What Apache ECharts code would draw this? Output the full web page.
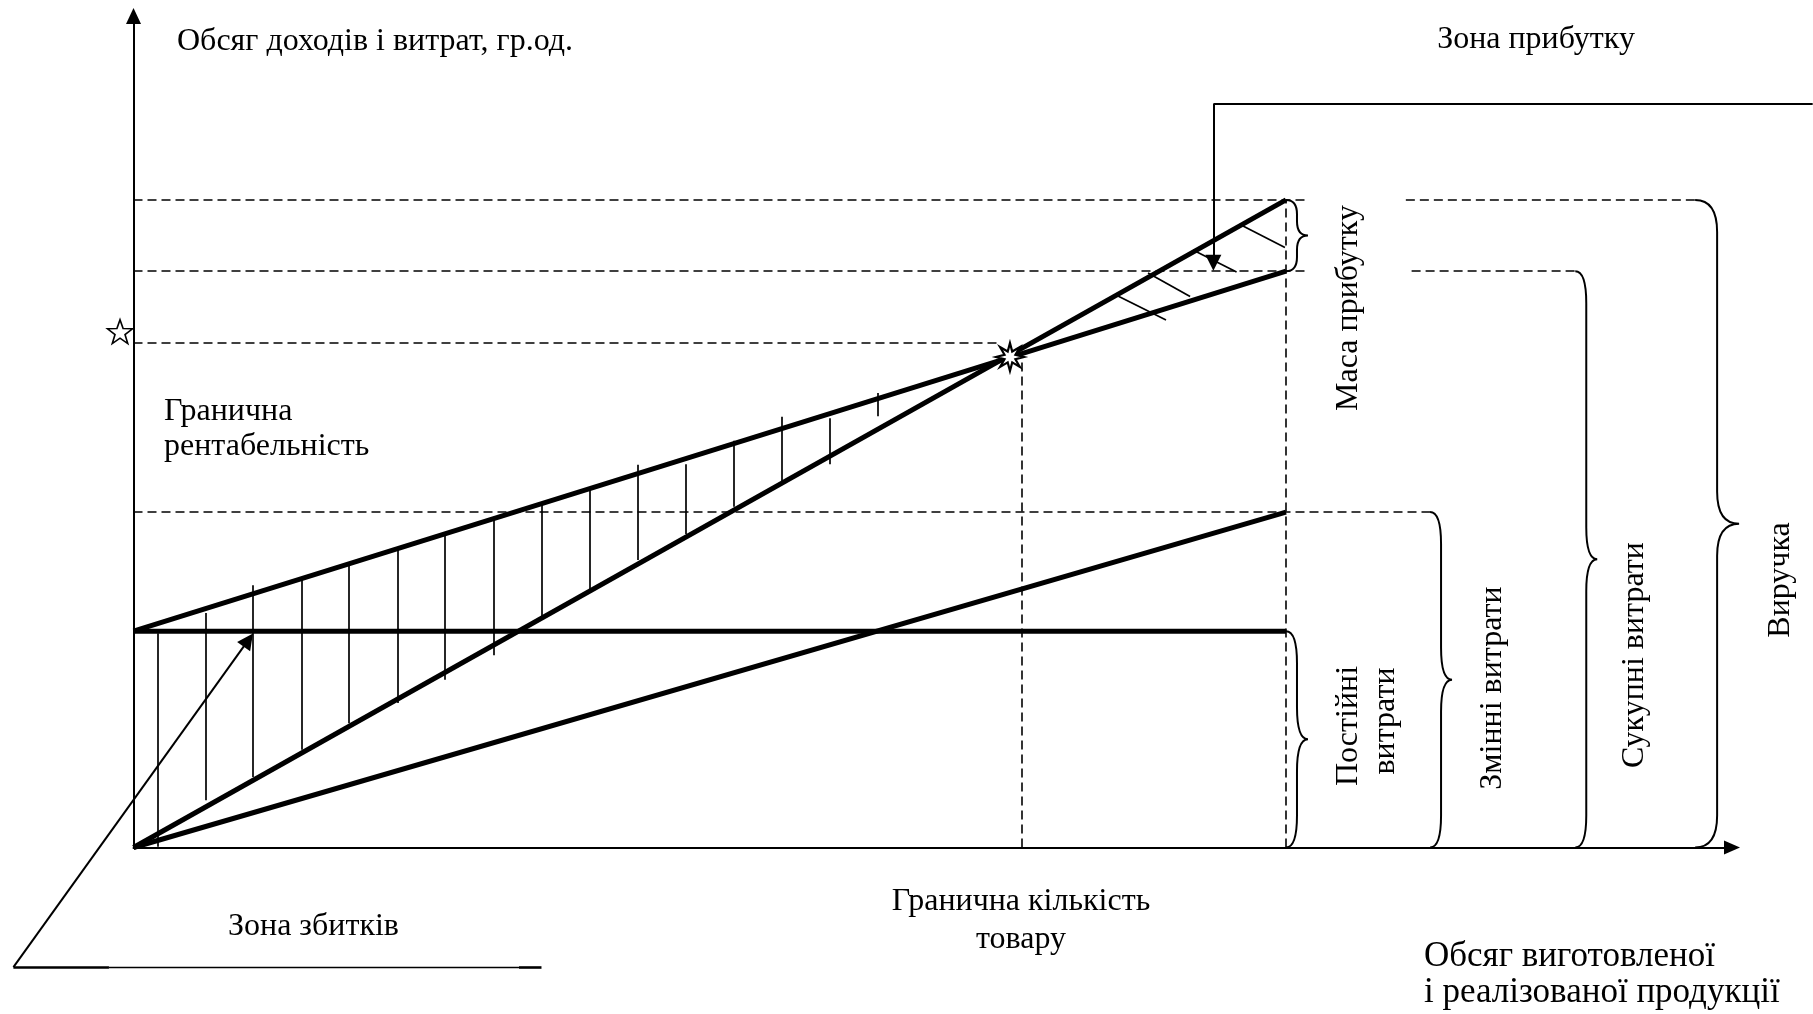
<!DOCTYPE html>
<html><head><meta charset="utf-8">
<script src="https://cdn.jsdelivr.net/npm/echarts@6/dist/echarts.min.js"></script>
<style>html,body{margin:0;padding:0;background:#fff}#c{width:1813px;height:1014px}</style>
</head><body><div id="c"></div>
<script>
// ---- data (quantity Q, money M in conventional units) ----
const qRange = [0, 138.7];
const mRange = [0, 128.4];
const quantity = [0, 100];
const revenue = [0, 100];
const totalCost = [33.4, 89];
const fixedCost = [33.4, 33.4];
const variableCost = [0, 51.8];
const breakEven = [76.05, 75.75];
const marginStar = [-1.17, 79.66];

const guideLines = [
  [[0, 100], [102.0, 100]], [[110.4, 100], [135.5, 100]],
  [[0, 89], [101.8, 89]], [[110.9, 89], [125.1, 89]],
  [[0, 77.9], [75.2, 77.9]],
  [[0, 51.8], [112.5, 51.8]],
  [[100, 0], [100, 100]],
  [[77.1, 0], [77.1, 75.6]]
];

const lossHatchQ = [2.10, 6.26, 10.39, 14.56, 18.72, 22.89, 27.05, 31.22, 35.38, 39.55, 43.71, 47.88, 52.04, 56.24, 60.37, 64.54];
const lossHatchTop = [33.1, 36.2, 40.5, 41.3, 43.6, 46.0, 48.4, 50.7, 53.1, 55.4, 59.1, 59.2, 62.8, 66.5, 66.3, 70.2];
const lossHatchBottom = [0.1, 7.3, 10.9, 15.1, 19.2, 22.3, 25.9, 29.7, 35.3, 39.5, 44.4, 48.4, 52.6, 56.5, 59.2, 66.6];

const profitHatch = [
  [[85.42, 85.17], [89.59, 81.47]],
  [[88.03, 88.73], [91.68, 85.10]],
  [[91.93, 92.28], [95.71, 88.88]],
  [[96.27, 95.98], [99.91, 92.66]]
];

// braces: [Q position, top M, bottom M]
const braces = [[100, 100, 89], [100, 33.4, 0], [112.5, 51.8, 0], [125.1, 89, 0], [135.5, 100, 0]];
const braceWidths = [22, 22, 22, 22, 44];

// callout lines (no arrowheads) and arrows
const calloutLines = [
  [[145.7, 114.8], [93.7, 114.8]]
];
const underlineThick = [[[-10.42, -18.46], [-2.13, -18.46]], [[33.45, -18.46], [35.4, -18.46]]];
const underlineThin = [[[-2.13, -18.46], [33.45, -18.46]]];
const arrowLines = [
  [[93.7, 114.8], [93.7, 90.3]],
  [[-10.42, -18.46], [9.96, 32.03]]
];

const FONT = '32px "Liberation Serif", "DejaVu Serif", serif';
const FONT_BIG = '35px "Liberation Serif", "DejaVu Serif", serif';

function starPath(n, ro, ri) {
  let d = '';
  for (let i = 0; i < 2 * n; i++) {
    const r = i % 2 ? ri : ro;
    const a = Math.PI * i / n - Math.PI / 2;
    d += (i ? 'L' : 'M') + (r * Math.cos(a)).toFixed(3) + ',' + (r * Math.sin(a)).toFixed(3);
  }
  return 'path://' + d + 'Z';
}

const chart = echarts.init(document.getElementById('c'), null, {renderer: 'canvas'});

const thick = {color: '#000', width: 5};
const pairs = (ys) => quantity.map((q, i) => [q, ys[i]]);

function txt(x, y, text, align, rot, font) {
  const el = {type: 'text', x: x, y: y, style: {text: text, font: font || FONT, fill: '#000', textAlign: align, textVerticalAlign: 'middle'}};
  if (rot) el.rotation = Math.PI / 2;
  return el;
}

const option = {
  animation: false,
  backgroundColor: '#fff',
  grid: {left: 133.5, top: 16, width: 1598.5, height: 831.5, containLabel: false, outerBoundsMode: 'none'},
  xAxis: {
    type: 'value', min: qRange[0], max: qRange[1],
    axisLine: {show: true, onZero: true, symbol: ['none', 'triangle'], symbolSize: [14, 16], lineStyle: {color: '#000', width: 2}},
    axisTick: {show: false}, axisLabel: {show: false}, splitLine: {show: false}
  },
  yAxis: {
    type: 'value', min: mRange[0], max: mRange[1],
    axisLine: {show: true, onZero: true, symbol: ['none', 'triangle'], symbolSize: [15, 16], lineStyle: {color: '#000', width: 2}},
    axisTick: {show: false}, axisLabel: {show: false}, splitLine: {show: false}
  },
  series: [
    {type: 'lines', coordinateSystem: 'cartesian2d', silent: true, z: 1,
     data: guideLines.map(c => ({coords: c})),
     lineStyle: {color: '#000', width: 1.6, type: [9, 5], opacity: 1}},
    {type: 'lines', coordinateSystem: 'cartesian2d', silent: true, z: 2,
     data: lossHatchQ.map((q, i) => ({coords: [[q, lossHatchTop[i]], [q, lossHatchBottom[i]]]})),
     lineStyle: {color: '#000', width: 1.7, opacity: 1}},
    {type: 'lines', coordinateSystem: 'cartesian2d', silent: true, z: 2,
     data: profitHatch.map(c => ({coords: c})),
     lineStyle: {color: '#000', width: 1.7, opacity: 1}},
    {type: 'line', data: pairs(revenue), symbol: 'none', lineStyle: thick, z: 3, silent: true},
    {type: 'line', data: pairs(totalCost), symbol: 'none', lineStyle: thick, z: 3, silent: true},
    {type: 'line', data: pairs(fixedCost), symbol: 'none', lineStyle: thick, z: 3, silent: true},
    {type: 'line', data: pairs(variableCost), symbol: 'none', lineStyle: thick, z: 3, silent: true},
    {type: 'custom', coordinateSystem: 'cartesian2d', clip: false, silent: true, z: 2,
     data: braces,
     encode: {x: 0, y: [1, 2]},
     renderItem: function (params, api) {
       const i = params.dataIndex;
       const b = braces[i];
       const w = braceWidths[i];
       const p0 = api.coord([b[0], b[1]]);
       const p1 = api.coord([b[0], b[2]]);
       const x0 = p0[0], y0 = p0[1], y3 = p1[1];
       const ym = (y0 + y3) / 2, h = y3 - y0;
       const r = Math.min(h / 5, 32);
       const x1 = x0 + w / 2, x2 = x0 + w;
       const d = `M${x0} ${y0} Q${x1} ${y0} ${x1} ${y0 + r} L${x1} ${ym - r} Q${x1} ${ym} ${x2} ${ym} Q${x1} ${ym} ${x1} ${ym + r} L${x1} ${y3 - r} Q${x1} ${y3} ${x0} ${y3}`;
       return {type: 'path', shape: {pathData: d}, style: {fill: 'none', stroke: '#000', lineWidth: 2}};
     }},
    {type: 'lines', coordinateSystem: 'cartesian2d', silent: true, clip: false, z: 4,
     data: calloutLines.map(c => ({coords: c})),
     lineStyle: {color: '#000', width: 2, opacity: 1}},
    {type: 'lines', coordinateSystem: 'cartesian2d', silent: true, clip: false, z: 4,
     data: underlineThick.map(c => ({coords: c})),
     lineStyle: {color: '#000', width: 2.6, opacity: 1}},
    {type: 'lines', coordinateSystem: 'cartesian2d', silent: true, clip: false, z: 4,
     data: underlineThin.map(c => ({coords: c})),
     lineStyle: {color: '#000', width: 1.4, opacity: 1}},
    {type: 'lines', coordinateSystem: 'cartesian2d', silent: true, clip: false, z: 4,
     data: arrowLines.map(c => ({coords: c})),
     symbol: ['none', 'triangle'], symbolSize: [13, 16],
     lineStyle: {color: '#000', width: 2, opacity: 1}, itemStyle: {color: '#000'}},
    {type: 'scatter', data: [breakEven], symbol: starPath(8, 1, 0.42), symbolSize: 28, clip: false, z: 6, silent: true,
     itemStyle: {color: '#fff', borderColor: '#000', borderWidth: 2.2, opacity: 1}},
    {type: 'scatter', data: [marginStar], symbol: starPath(5, 1, 0.4), symbolSize: [25, 24], clip: false, z: 6, silent: true,
     itemStyle: {color: '#fff', borderColor: '#000', borderWidth: 1.6, opacity: 1}}
  ],
  graphic: [
    txt(177, 42, 'Обсяг доходів і витрат, гр.од.', 'left'),
    txt(1536, 40, 'Зона прибутку', 'center'),
    txt(164, 412, 'Гранична', 'left'),
    txt(164, 447, 'рентабельність', 'left'),
    txt(1349, 308, 'Маса прибутку', 'center', true),
    txt(1349, 726, 'Постійні', 'center', true),
    txt(1386, 721, 'витрати', 'center', true),
    txt(1493, 688, 'Змінні витрати', 'center', true),
    txt(1635, 655, 'Сукупні витрати', 'center', true),
    txt(1781, 580, 'Виручка', 'center', true),
    txt(1021, 902, 'Гранична кількість', 'center'),
    txt(1021, 940, 'товару', 'center'),
    txt(228, 927, 'Зона збитків', 'left'),
    txt(1424, 957, 'Обсяг виготовленої', 'left', false, FONT_BIG),
    txt(1424, 993, 'і реалізованої продукції', 'left', false, FONT_BIG)
  ]
};
chart.setOption(option);
</script>
</body></html>
